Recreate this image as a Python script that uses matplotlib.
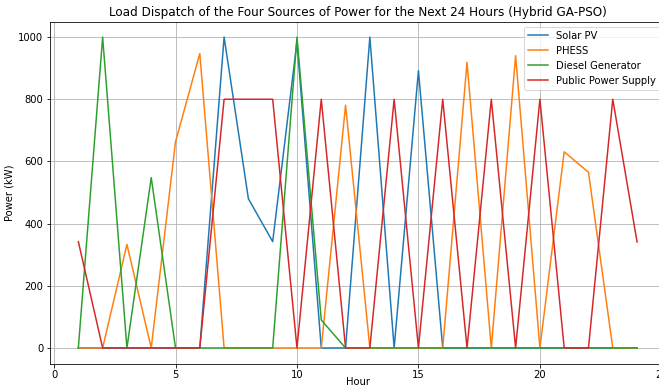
import matplotlib
matplotlib.use("Agg")
import matplotlib.pyplot as plt

# Hourly dispatch (kW)
hours = list(range(1, 25))
solar_pv = [0, 0, 0, 0, 0, 0, 1000, 480, 342, 985, 0, 0,
            1000, 0, 892, 0, 0, 0, 0, 0, 0, 0, 0, 0]
phess = [0, 0, 333, 0, 663, 947, 0, 0, 0, 0, 0, 781,
         0, 0, 0, 0, 919, 0, 940, 0, 631, 565, 0, 0]
diesel = [0, 1000, 0, 548, 0, 0, 0, 0, 0, 1000, 90, 0,
          0, 0, 0, 0, 0, 0, 0, 0, 0, 0, 0, 0]
public_supply = [342, 0, 0, 0, 0, 0, 800, 800, 800, 0, 800, 0,
                 0, 800, 0, 800, 0, 800, 0, 800, 0, 0, 800, 341]

fig = plt.figure(figsize=(659 / 72, 387 / 72), dpi=72)
# the original was cropped on the right, so the axes run past the edge
ax = fig.add_axes([0.0765, 0.0607, 0.9326, 0.8837])

ax.plot(hours, solar_pv, label='Solar PV')
ax.plot(hours, phess, label='PHESS')
ax.plot(hours, diesel, label='Diesel Generator')
ax.plot(hours, public_supply, label='Public Power Supply')

ax.tick_params(axis='x', pad=2.5)
ax.set_xlabel('Hour', labelpad=-2.5)
ax.set_ylabel('Power (kW)')
ax.set_title('Load Dispatch of the Four Sources of Power for the Next 24 Hours (Hybrid GA-PSO)')
ax.legend(loc='upper right')
ax.grid(True)

fig.savefig('out.png', dpi=72)
